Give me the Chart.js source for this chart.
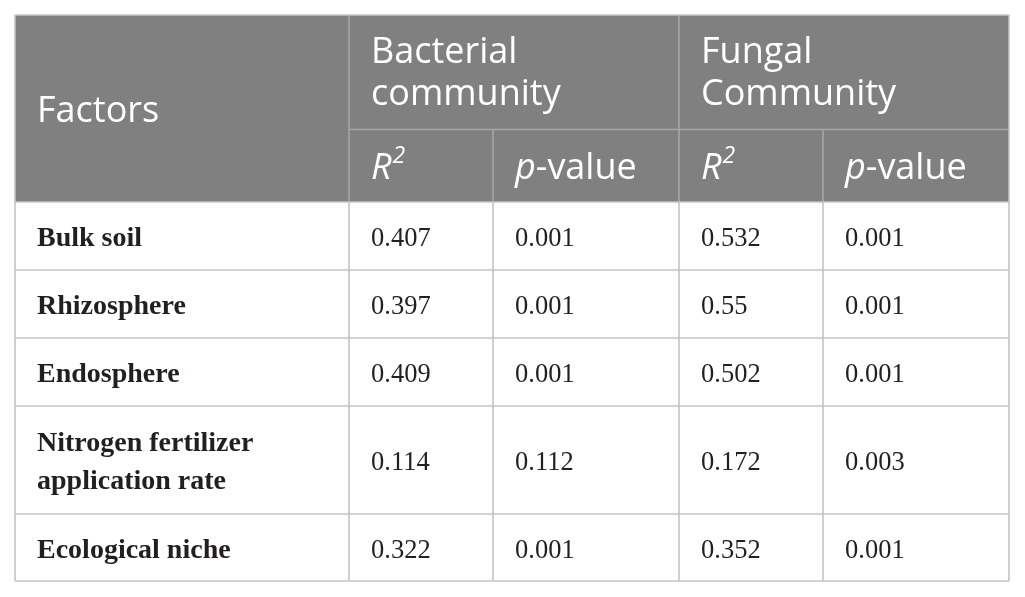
<!DOCTYPE html>
<html>
<head>
<meta charset="utf-8">
<script src="https://cdn.jsdelivr.net/npm/chart.js@4.4.1/dist/chart.umd.min.js"></script>
<style>
html,body{margin:0;padding:0;background:#fff;}
#wrap{width:1025px;height:597px;}
</style>
</head>
<body>
<div id="wrap"><canvas id="c" width="1025" height="597"></canvas></div>
<script>
// ---- data ----
const factors = ["Bulk soil", "Rhizosphere", "Endosphere", "Nitrogen fertilizer\napplication rate", "Ecological niche"];
const bacterialR2 = [0.407, 0.397, 0.409, 0.114, 0.322];
const bacterialP = [0.001, 0.001, 0.001, 0.112, 0.001];
const fungalR2 = [0.532, 0.55, 0.502, 0.172, 0.352];
const fungalP = [0.001, 0.001, 0.001, 0.003, 0.001];
const groupHeaders = ["Bacterial\ncommunity", "Fungal\nCommunity"];
const firstHeader = "Factors";

// ---- layout (scale units) ----
const colEdges = [0, 334, 478, 664, 808, 994];
const rowEdges = [0, 114.5, 187, 255, 323, 391, 499, 566];

const HEAD_BG = '#7f807f';
const HEAD_LINE = '#a6a6a6';
const BODY_LINE = '#c4c4c4';
const SANS = '"Open Sans", Lato, sans-serif';
const SERIF = '"Liberation Serif", "DejaVu Serif", serif';

const tablePlugin = {
  id: 'tablePlugin',
  afterDraw(chart) {
    const ctx = chart.ctx;
    const xs = chart.scales.x, ys = chart.scales.y;
    const X = v => xs.getPixelForValue(v);
    const Y = v => ys.getPixelForValue(v);
    ctx.save();
    // header background
    ctx.fillStyle = HEAD_BG;
    ctx.fillRect(X(colEdges[0]), Y(rowEdges[0]), X(colEdges[5]) - X(colEdges[0]), Y(rowEdges[2]) - Y(rowEdges[0]));

    const line = (x1, y1, x2, y2, col) => {
      ctx.strokeStyle = col; ctx.lineWidth = 1.6;
      ctx.beginPath(); ctx.moveTo(x1, y1); ctx.lineTo(x2, y2); ctx.stroke();
    };
    // header lines
    line(X(colEdges[1]), Y(rowEdges[0]), X(colEdges[1]), Y(rowEdges[2]), HEAD_LINE);
    line(X(colEdges[3]), Y(rowEdges[0]), X(colEdges[3]), Y(rowEdges[2]), HEAD_LINE);
    line(X(colEdges[2]), Y(rowEdges[1]), X(colEdges[2]), Y(rowEdges[2]), HEAD_LINE);
    line(X(colEdges[4]), Y(rowEdges[1]), X(colEdges[4]), Y(rowEdges[2]), HEAD_LINE);
    line(X(colEdges[1]), Y(rowEdges[1]), X(colEdges[5]), Y(rowEdges[1]), HEAD_LINE);
    // body lines
    for (let r = 2; r < rowEdges.length; r++) {
      line(X(colEdges[0]), Y(rowEdges[r]), X(colEdges[5]), Y(rowEdges[r]), BODY_LINE);
    }
    for (let c = 0; c < colEdges.length; c++) {
      line(X(colEdges[c]), Y(rowEdges[2]), X(colEdges[c]), Y(rowEdges[7]), BODY_LINE);
    }
    // outer border
    line(X(colEdges[0]), Y(rowEdges[0]), X(colEdges[0]), Y(rowEdges[2]), BODY_LINE);
    line(X(colEdges[5]), Y(rowEdges[0]), X(colEdges[5]), Y(rowEdges[2]), BODY_LINE);
    line(X(colEdges[0]), Y(rowEdges[0]), X(colEdges[5]), Y(rowEdges[0]), BODY_LINE);

    const PAD = 22;
    ctx.textAlign = 'left';
    ctx.textBaseline = 'alphabetic';
    const multi = (text, x, yc, lh, off) => {
      const lines = String(text).split('\n');
      const start = yc - (lines.length - 1) * lh / 2 + off;
      lines.forEach((l, i) => ctx.fillText(l, x, start + i * lh));
    };
    // header text
    ctx.fillStyle = '#ffffff';
    ctx.font = '36px ' + SANS;
    multi(firstHeader, X(colEdges[0]) + PAD, (Y(rowEdges[0]) + Y(rowEdges[2])) / 2, 42, 13);
    multi(groupHeaders[0], X(colEdges[1]) + PAD, (Y(rowEdges[0]) + Y(rowEdges[1])) / 2, 42, 12);
    multi(groupHeaders[1], X(colEdges[3]) + PAD, (Y(rowEdges[0]) + Y(rowEdges[1])) / 2, 42, 12);
    const subY = (Y(rowEdges[1]) + Y(rowEdges[2])) / 2 + 13;
    const drawR2 = x => {
      ctx.font = 'italic 36px ' + SANS;
      ctx.fillText('R', x, subY);
      const w = ctx.measureText('R').width;
      ctx.font = 'italic 23px ' + SANS;
      ctx.fillText('2', x + w + 1, subY - 16);
    };
    const drawP = x => {
      ctx.font = 'italic 36px ' + SANS;
      ctx.fillText('p', x, subY);
      const w = ctx.measureText('p').width;
      ctx.font = '36px ' + SANS;
      ctx.fillText('-value', x + w, subY);
    };
    drawR2(X(colEdges[1]) + PAD);
    drawP(X(colEdges[2]) + PAD);
    drawR2(X(colEdges[3]) + PAD);
    drawP(X(colEdges[4]) + PAD);

    // body text
    ctx.fillStyle = '#231f20';
    const cols = [bacterialR2, bacterialP, fungalR2, fungalP];
    for (let r = 0; r < factors.length; r++) {
      const yc = (Y(rowEdges[r + 2]) + Y(rowEdges[r + 3])) / 2;
      ctx.font = 'bold 28px ' + SERIF;
      multi(factors[r], X(colEdges[0]) + PAD, yc, 38, 10);
      ctx.font = '26.5px ' + SERIF;
      cols.forEach((arr, c) => {
        multi(String(arr[r]), X(colEdges[c + 1]) + PAD, yc, 38, 10);
      });
    }
    ctx.restore();
  }
};

new Chart(document.getElementById('c'), {
  type: 'scatter',
  data: { datasets: [{ data: [], pointRadius: 0 }] },
  options: {
    responsive: false,
    animation: false,
    devicePixelRatio: 1,
    layout: { padding: { left: 15, top: 15, right: 16, bottom: 16 } },
    plugins: { legend: { display: false }, tooltip: { enabled: false } },
    scales: {
      x: { type: 'linear', min: colEdges[0], max: colEdges[colEdges.length - 1], display: false },
      y: { type: 'linear', min: rowEdges[0], max: rowEdges[rowEdges.length - 1], reverse: true, display: false }
    }
  },
  plugins: [tablePlugin]
});
</script>
</body>
</html>
